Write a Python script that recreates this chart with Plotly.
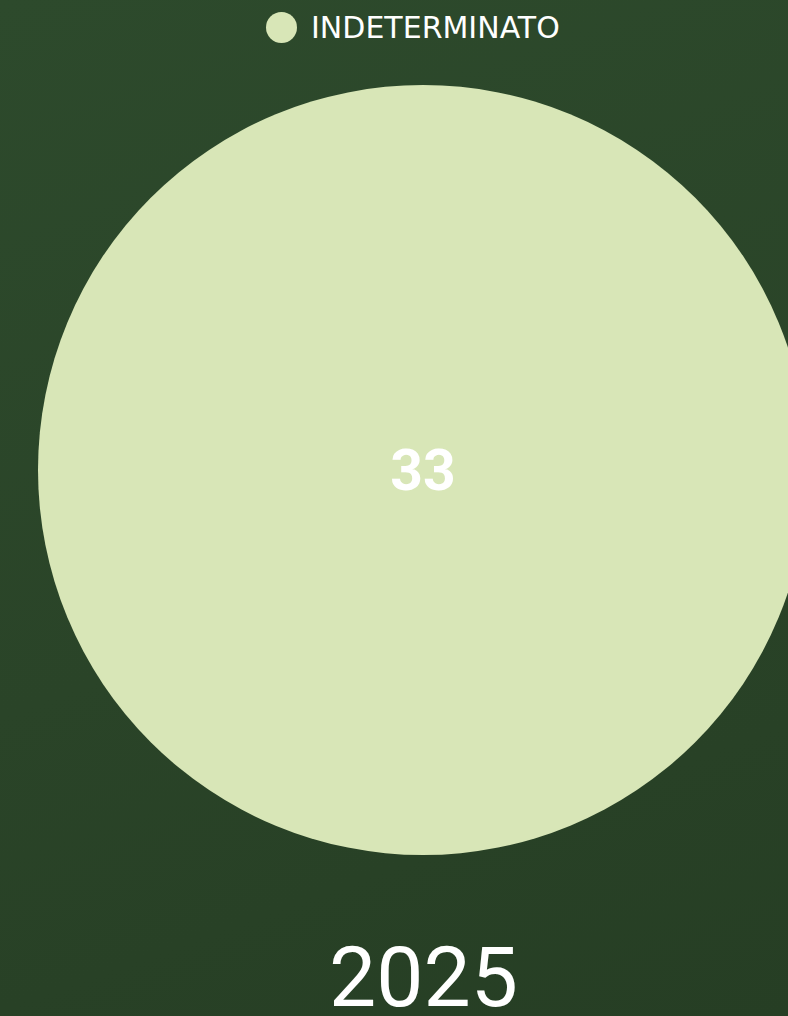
import plotly.graph_objects as go

# data
labels = ["INDETERMINATO"]
values = [33]
colors = ["#d8e6b7"]
year = "2025"

W, H = 830, 1016
L, T = 38, 85
SIZE = 770  # pie diameter in px

fig = go.Figure()

fig.add_trace(
    go.Pie(
        labels=labels,
        values=values,
        marker=dict(colors=colors, line=dict(width=0)),
        textinfo="value",
        textposition="inside",
        insidetextfont=dict(family="Roboto", size=57, color="white", weight="bold"),
        sort=False,
        direction="clockwise",
        showlegend=False,
        hoverinfo="label+value",
    )
)

# legend entry (circle marker + label), drawn in paper coords
def px_x(p):
    return (p - L) / SIZE

def px_y(p):
    return (T + SIZE - p) / SIZE

fig.add_shape(
    type="circle",
    xref="paper", yref="paper",
    x0=px_x(266), x1=px_x(297), y0=px_y(43), y1=px_y(12),
    fillcolor=colors[0], line=dict(width=0),
)
fig.add_annotation(
    text=labels[0],
    xref="paper", yref="paper",
    x=px_x(309), y=px_y(28),
    xanchor="left", yanchor="middle",
    showarrow=False,
    font=dict(family="DejaVu Sans", size=30, color="white"),
)

# year caption at the bottom
fig.add_annotation(
    text=year,
    xref="paper", yref="paper",
    x=px_x(423), y=px_y(977),
    xanchor="center", yanchor="middle",
    showarrow=False,
    font=dict(family="Roboto", size=84, color="white"),
)

fig.update_layout(
    width=W,
    height=H,
    margin=dict(l=L, r=W - L - SIZE, t=T, b=H - T - SIZE, autoexpand=False),
    paper_bgcolor="rgba(0,0,0,0)",
    plot_bgcolor="rgba(0,0,0,0)",
)

css = (
    "document.body.style.margin='0';"
    "document.body.style.overflow='hidden';"
    "document.body.style.background="
    "'linear-gradient(160deg, #2d4a2c 0%, #2a4428 55%, #263e24 100%)';"
)

fig.write_html("out.html", post_script=css, config={"displayModeBar": False})
